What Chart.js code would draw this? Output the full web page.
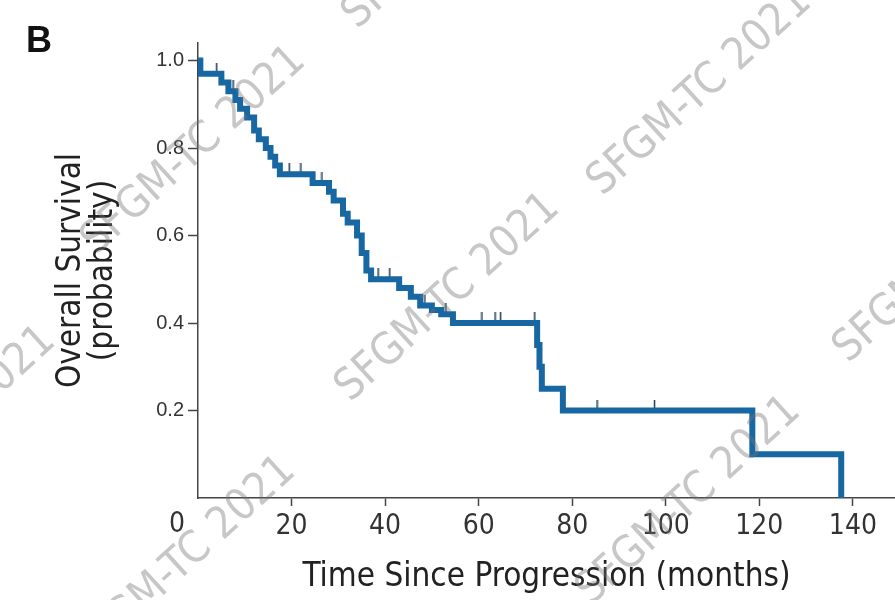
<!DOCTYPE html>
<html>
<head>
<meta charset="utf-8">
<script src="https://cdn.jsdelivr.net/npm/chart.js@4.4.1/dist/chart.umd.min.js"></script>
<style>
  html, body { margin: 0; padding: 0; background: #fff; }
</style>
</head>
<body>
<canvas id="survivalChart" width="895" height="600"></canvas>
<script>
// Kaplan-Meier step points: survival holds from each month until the next one
const eventMonths = [0, 0.5, 5, 6.5, 8, 9, 10.5, 12, 13, 14.5,
  15.5, 16.5, 17.5, 24.5, 28, 29, 31, 32, 34, 35,
  36, 37, 43, 45.5, 47.5, 50, 52, 54.5, 72.5, 73,
  73.5, 78, 118.5, 137.5];
const survival = [1.0, 0.97, 0.95, 0.93, 0.91, 0.89, 0.87, 0.84, 0.82, 0.80,
  0.78, 0.76, 0.74, 0.72, 0.70, 0.68, 0.65, 0.63, 0.60, 0.56,
  0.52, 0.50, 0.48, 0.46, 0.44, 0.43, 0.42, 0.40, 0.35, 0.30,
  0.25, 0.20, 0.10, 0.0];

// censored patients (tick marks on the curve)
const censorMonths = [4, 7.5, 19.5, 22, 26.5, 38.5, 41, 48.5, 53, 60.7, 63.5, 64.7, 72, 85.3, 97.6];
const censorSurvival = [0.97, 0.93, 0.74, 0.74, 0.72, 0.50, 0.50, 0.44, 0.42, 0.40, 0.40, 0.40, 0.40, 0.20, 0.20];

const xTickValues = [0, 20, 40, 60, 80, 100, 120, 140];
const yTickValues = [0.2, 0.4, 0.6, 0.8, 1.0];

const panelLabel = 'B';
const xTitle = 'Time Since Progression (months)';
const yTitle = ['Overall Survival', '(probability)'];
const stampText = 'SFGM-TC 2021';

const narrow = '"Liberation Sans Narrow", "DejaVu Sans Condensed", sans-serif';
const axisColor = '#444';

// diagonal stamp positions (centre x, centre y)
const stampSpots = [[194, 151], [700, 92], [448, 298], [689, 501], [184, 561], [-56, 431], [946, 259], [455, -75]];

// censor mark: short upward tick, drawn centred on the curve
const censorMark = document.createElement('canvas');
censorMark.width = 3;
censorMark.height = 22;
(() => {
  const c = censorMark.getContext('2d');
  c.fillStyle = '#1d3b55';
  c.fillRect(0.75, 0, 1.5, 12);
})();

const extras = {
  id: 'extras',
  afterDatasetsDraw(chart) {
    const ctx = chart.ctx;
    ctx.save();
    ctx.font = '44px ' + narrow;
    ctx.fillStyle = 'rgba(115,115,115,0.4)';
    ctx.textAlign = 'center';
    ctx.textBaseline = 'middle';
    stampSpots.forEach(([x, y]) => {
      ctx.save();
      ctx.translate(x, y);
      ctx.rotate(-0.74);
      ctx.fillText(stampText, 0, 0);
      ctx.restore();
    });
    ctx.restore();
  },
  afterDraw(chart) {
    const ctx = chart.ctx;
    const xs = chart.scales.x;
    ctx.save();
    // panel letter
    ctx.font = 'bold 36px "Liberation Sans", Arial, sans-serif';
    ctx.fillStyle = '#111';
    ctx.textBaseline = 'alphabetic';
    ctx.fillText(panelLabel, 26, 52);
    // origin label sits left of the corner
    ctx.font = '28px ' + narrow;
    ctx.fillStyle = '#333';
    ctx.textAlign = 'center';
    ctx.textBaseline = 'middle';
    ctx.fillText(String(xTickValues[0]), xs.getPixelForValue(0) - 21, xs.top + 27);
    ctx.restore();
  }
};

new Chart(document.getElementById('survivalChart'), {
  type: 'line',
  data: {
    datasets: [{
      label: 'Overall survival',
      data: eventMonths.map((m, i) => ({ x: m, y: survival[i] })),
      stepped: 'before',
      borderColor: '#1767a3',
      borderWidth: 6,
      pointRadius: 0,
      fill: false
    }, {
      type: 'scatter',
      label: 'Censored',
      data: censorMonths.map((m, i) => ({ x: m, y: censorSurvival[i] })),
      pointStyle: censorMark,
      pointRadius: 6
    }]
  },
  options: {
    responsive: false,
    animation: false,
    layout: { autoPadding: false, padding: { top: 43, left: 0, right: 0, bottom: 0 } },
    plugins: { legend: { display: false }, tooltip: { enabled: false } },
    scales: {
      x: {
        type: 'linear',
        min: 0,
        max: 149,
        border: { color: axisColor, width: 1.5 },
        grid: { drawOnChartArea: false, tickLength: 8, tickColor: axisColor, tickWidth: 1.5 },
        afterBuildTicks: s => { s.ticks = xTickValues.slice(1).map(v => ({ value: v })); },
        afterFit: s => { s.height = 102; s.paddingLeft = 0; s.paddingRight = 0; },
        ticks: {
          padding: 4,
          color: '#333',
          font: { family: narrow, size: 28 },
          maxRotation: 0
        },
        title: {
          display: true,
          text: xTitle,
          color: '#222',
          font: { family: narrow, size: 33 },
          padding: { top: 0, bottom: 3 }
        }
      },
      y: {
        type: 'linear',
        min: 0,
        max: 1.04,
        border: { color: axisColor, width: 1.5 },
        grid: { drawOnChartArea: false, tickLength: 10, tickColor: axisColor, tickWidth: 1.5 },
        afterBuildTicks: s => { s.ticks = yTickValues.map(v => ({ value: v })); },
        afterFit: s => { s.width = 198; },
        ticks: {
          padding: 4,
          color: '#333',
          font: { family: '"Liberation Sans", Arial, sans-serif', size: 20 },
          callback: v => v.toFixed(1)
        },
        title: {
          display: true,
          text: yTitle,
          color: '#222',
          font: { family: narrow, size: 33, lineHeight: 0.95 },
          padding: { top: 56, bottom: 0 }
        }
      }
    }
  },
  plugins: [extras]
});
</script>
</body>
</html>
